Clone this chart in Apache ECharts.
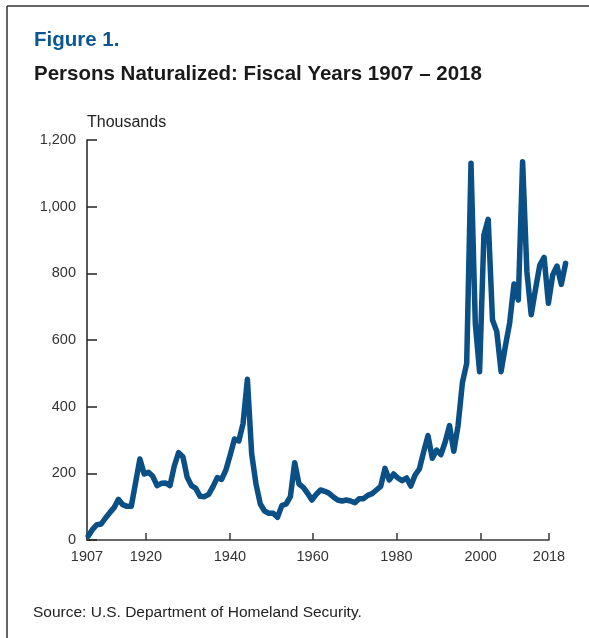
<!DOCTYPE html>
<html>
<head>
<meta charset="utf-8">
<script src="https://cdn.jsdelivr.net/npm/echarts@6/dist/echarts.min.js"></script>
<style>
html,body{margin:0;padding:0;background:#fff;}
#chart{width:589px;height:638px;}
</style>
</head>
<body>
<div id="chart"></div>
<script>
// ---- data ----
const firstYear = 1907;
const lastYear = 2018;
const naturalized = [
  12, 32, 46, 48, 66, 82, 97, 122, 106, 101,          // 1907-1916
  101, 172, 243, 198, 203, 191, 163, 170, 171, 163,   // 1917-1926
  222, 262, 250, 188, 163, 155, 131, 130, 137, 160,   // 1927-1936
  187, 182, 210, 255, 303, 297, 350, 482, 258, 168,   // 1937-1946
  108, 87, 80, 80, 68, 103, 108, 130, 232, 168,       // 1947-1956
  158, 140, 120, 137, 150, 146, 140, 129, 120, 117,   // 1957-1966
  120, 117, 112, 124, 124, 134, 139, 150, 161, 215,   // 1967-1976
  180, 198, 186, 178, 186, 162, 195, 213, 265, 313,   // 1977-1986
  245, 270, 256, 294, 343, 266, 344, 472, 530, 1130,  // 1987-1996
  650, 505, 915, 962, 660, 625, 505, 582, 652, 768,   // 1997-2006
  720, 1135, 805, 676, 752, 825, 848, 710, 795, 822,  // 2007-2016
  767, 830                                            // 2017-2018
];
const tickLabels = ['1907', '1920', '1940', '1960', '1980', '2000', '2018'];
const yTicks = [0, 200, 400, 600, 800, 1000, 1200];

// ---- layout: where the reference draws its x ticks, in the line's year scale ----
const tickPos = [1906.7, 1920.4, 1939.95, 1959.2, 1978.7, 1998.3, 2014.2];

const years = [];
for (let y = firstYear; y <= lastYear; y++) years.push(y);
const points = years.map((y, i) => [y, naturalized[i]]);

const FONT = "'Liberation Sans', Arial, sans-serif";
const AX = '#3a3a3a';
const chart = echarts.init(document.getElementById('chart'), null, {renderer: 'canvas'});

chart.setOption({
  animation: false,
  backgroundColor: '#ffffff',
  grid: [
    {left: 87, right: 40, top: 140, bottom: 98, containLabel: false, outerBoundsMode: 'none'},
    {left: 87, right: 23.4, top: 140, bottom: 98, containLabel: false, outerBoundsMode: 'none'}
  ],
  xAxis: [{
    gridIndex: 0,
    type: 'value',
    min: tickPos[0],
    max: tickPos[tickPos.length - 1],
    axisLine: {show: true, lineStyle: {color: AX, width: 1.5}},
    axisTick: {show: true, inside: true, length: 7, customValues: tickPos, lineStyle: {color: AX, width: 1.5}},
    axisLabel: {
      customValues: tickPos,
      margin: 9,
      fontSize: 14.5,
      fontFamily: FONT,
      color: '#333',
      formatter: function (v) {
        let best = 0;
        tickPos.forEach((p, i) => { if (Math.abs(p - v) < Math.abs(tickPos[best] - v)) best = i; });
        return tickLabels[best];
      }
    },
    splitLine: {show: false}
  }, {
    gridIndex: 1,
    type: 'value',
    min: tickPos[0],
    max: lastYear,
    show: false
  }],
  yAxis: [{
    gridIndex: 0,
    type: 'value',
    min: yTicks[0],
    max: yTicks[yTicks.length - 1],
    interval: 200,
    axisLine: {show: true, lineStyle: {color: '#222', width: 1.5}},
    axisTick: {show: true, inside: true, length: 10, lineStyle: {color: '#222', width: 1.5}},
    axisLabel: {
      margin: 11,
      fontSize: 14.5,
      fontFamily: FONT,
      color: '#333',
      formatter: v => v.toLocaleString('en-US')
    },
    splitLine: {show: false}
  }, {
    gridIndex: 1,
    type: 'value',
    min: yTicks[0],
    max: yTicks[yTicks.length - 1],
    show: false
  }],
  series: [{
    type: 'line',
    xAxisIndex: 1,
    yAxisIndex: 1,
    data: points,
    clip: false,
    showSymbol: false,
    symbol: 'none',
    smooth: false,
    lineStyle: {color: '#0a4f85', width: 5.5, cap: 'round', join: 'round'}
  }],
  graphic: [
    {type: 'line', shape: {x1: 7, y1: 6, x2: 589, y2: 6}, style: {stroke: '#333', lineWidth: 1.5}},
    {type: 'line', shape: {x1: 7, y1: 6, x2: 7, y2: 638}, style: {stroke: '#333', lineWidth: 1.5}},
    {type: 'text', left: 34, top: 30, style: {text: 'Figure 1.', font: "bold 20.5px " + FONT, fill: '#0a5791'}},
    {type: 'text', left: 34, top: 64, style: {text: 'Persons Naturalized: Fiscal Years 1907 \u2013 2018', font: "bold 20.5px " + FONT, fill: '#1a1a1a'}},
    {type: 'text', left: 87, top: 115, style: {text: 'Thousands', font: "16px " + FONT, fill: '#222'}},
    {type: 'text', left: 33, top: 605, style: {text: 'Source: U.S. Department of Homeland Security.', font: "15.5px " + FONT, fill: '#222'}}
  ]
});
</script>
</body>
</html>
